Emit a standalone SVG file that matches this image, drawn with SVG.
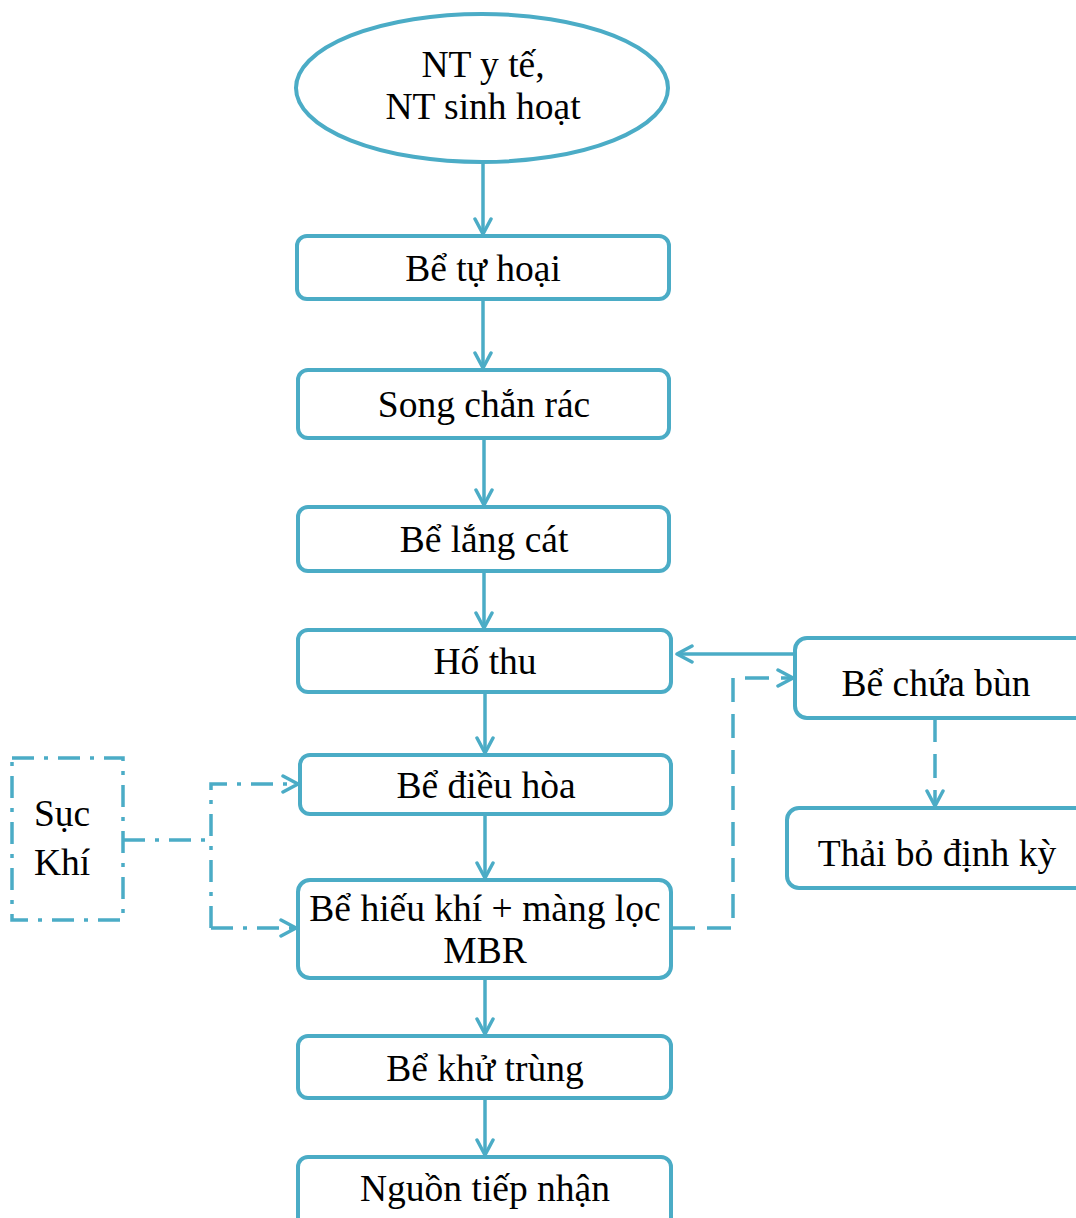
<svg xmlns="http://www.w3.org/2000/svg" width="1076" height="1218" viewBox="0 0 1076 1218">
<defs>
<style>
.n{fill:#fff;stroke:#4BACC6;stroke-width:4}
.t{font-family:"Liberation Serif","Times New Roman",serif;font-size:37.5px;fill:#000;text-anchor:middle}
.c{fill:none;stroke:#4BACC6;stroke-width:3.5}
.dd{stroke-dasharray:22 10 4 10}
.da{stroke-dasharray:24 12}
</style>
<marker id="ah" viewBox="0 0 20 20" refX="18" refY="10" markerWidth="20" markerHeight="20" markerUnits="userSpaceOnUse" orient="auto">
<path d="M3,2 L18,10 L3,18" fill="none" stroke="#4BACC6" stroke-width="3.5" stroke-linecap="round" stroke-linejoin="round"/>
</marker>
</defs>
<rect width="1076" height="1218" fill="#fff"/>
<g id="connectors">
<path class="c" d="M483,162 V234" marker-end="url(#ah)"/>
<path class="c" d="M483,299 V368" marker-end="url(#ah)"/>
<path class="c" d="M484,438 V505" marker-end="url(#ah)"/>
<path class="c" d="M484,571 V628" marker-end="url(#ah)"/>
<path class="c" d="M485,692 V753" marker-end="url(#ah)"/>
<path class="c" d="M485,814 V878" marker-end="url(#ah)"/>
<path class="c" d="M485,978 V1034" marker-end="url(#ah)"/>
<path class="c" d="M485,1098 V1155" marker-end="url(#ah)"/>
<path class="c" d="M795,654 H677" marker-end="url(#ah)"/>
<path class="c da" d="M671,928 H733 V678 H793" marker-end="url(#ah)"/>
<path class="c da" d="M935,718 V806" marker-end="url(#ah)"/>
<path class="c dd" d="M123,840 H211"/>
<path class="c dd" d="M211,928 V784 H298" marker-end="url(#ah)"/>
<path class="c dd" d="M211,928 H296" marker-end="url(#ah)"/>
</g>
<g id="n_nt">
<ellipse class="n" cx="482" cy="88" rx="186" ry="74"/>
<text class="t" x="483" y="77">NT y tế,</text>
<text class="t" x="483" y="119">NT sinh hoạt</text>
</g>
<g id="n_tuhoai">
<rect class="n" x="297" y="236" width="372" height="63" rx="10"/>
<text class="t" x="483" y="281">Bể tự hoại</text>
</g>
<g id="n_song">
<rect class="n" x="298" y="370" width="371" height="68" rx="10"/>
<text class="t" x="484" y="417">Song chắn rác</text>
</g>
<g id="n_langcat">
<rect class="n" x="298" y="507" width="371" height="64" rx="10"/>
<text class="t" x="484" y="552">Bể lắng cát</text>
</g>
<g id="n_hothu">
<rect class="n" x="298" y="630" width="373" height="62" rx="10"/>
<text class="t" x="485" y="674">Hố thu</text>
</g>
<g id="n_dieuhoa">
<rect class="n" x="300" y="755" width="371" height="59" rx="10"/>
<text class="t" x="486" y="798">Bể điều hòa</text>
</g>
<g id="n_mbr">
<rect class="n" x="298" y="880" width="373" height="98" rx="12"/>
<text class="t" x="485" y="921">Bể hiếu khí + màng lọc</text>
<text class="t" x="485" y="963">MBR</text>
</g>
<g id="n_khutrung">
<rect class="n" x="298" y="1036" width="373" height="62" rx="10"/>
<text class="t" x="485" y="1081">Bể khử trùng</text>
</g>
<g id="n_nguon">
<rect class="n" x="298" y="1157" width="373" height="75" rx="10"/>
<text class="t" x="485" y="1201">Nguồn tiếp nhận</text>
</g>
<g id="n_bun">
<rect class="n" x="795" y="638" width="300" height="80" rx="12"/>
<text class="t" x="936" y="696">Bể chứa bùn</text>
</g>
<g id="n_thaibo">
<rect class="n" x="787" y="808" width="310" height="80" rx="12"/>
<text class="t" x="937" y="866">Thải bỏ định kỳ</text>
</g>
<g id="n_suckhi">
<rect class="c dd" x="12" y="758" width="111" height="162"/>
<text class="t" x="62" y="826">Sục</text>
<text class="t" x="62" y="875">Khí</text>
</g>
</svg>
